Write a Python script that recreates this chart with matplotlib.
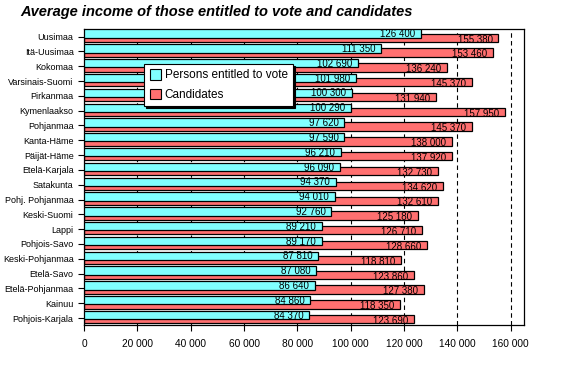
import matplotlib

matplotlib.use("Agg")

import matplotlib.pyplot as plt
import numpy as np
from matplotlib.ticker import FuncFormatter, MultipleLocator


TITLE = "Average income of those entitled to vote and candidates"

regions = [
    "Uusimaa", "Itä-Uusimaa", "Kokomaa", "Varsinais-Suomi", "Pirkanmaa",
    "Kymenlaakso", "Pohjanmaa", "Kanta-Häme", "Päijät-Häme", "Etelä-Karjala",
    "Satakunta", "Pohj. Pohjanmaa", "Keski-Suomi", "Lappi", "Pohjois-Savo",
    "Keski-Pohjanmaa", "Etelä-Savo", "Etelä-Pohjanmaa", "Kainuu", "Pohjois-Karjala",
]
voters = [
    126400, 111350, 102690, 101980, 100300, 100290, 97620, 97590, 96210, 96090,
    94370, 94010, 92760, 89210, 89170, 87810, 87080, 86640, 84860, 84370,
]
candidates = [
    155380, 153460, 136240, 145370, 131940, 157950, 145370, 138000, 137920, 132730,
    134620, 132610, 125180, 126710, 128660, 118810, 123860, 127380, 118350, 123690,
]
series_names = ["Persons entitled to vote", "Candidates"]

CYAN = "#80FFFF"
RED = "#FF7070"
FONT = "Liberation Sans"


def fmt(v):
    return f"{int(v):,}".replace(",", " ")


def main():
    fig = plt.figure(figsize=(5.75, 3.9), dpi=100)
    ax = fig.add_axes([0.146, 0.167, 0.765, 0.759])

    y = np.arange(len(regions))
    h = 0.56

    ax.barh(y + 0.08, candidates, height=h, color=RED, edgecolor="black",
            linewidth=0.9, zorder=2)
    ax.barh(y - 0.2, voters, height=h, color=CYAN, edgecolor="black",
            linewidth=0.9, zorder=3)

    for yi, v in zip(y, voters):
        ax.text(v - 2200, yi - 0.16, fmt(v), ha="right", va="center",
                fontsize=7, family=FONT, zorder=4)
    for yi, v in zip(y, candidates):
        ax.text(v - 2200, yi + 0.2, fmt(v), ha="right", va="center",
                fontsize=7, family=FONT, zorder=4)

    ax.set_xlim(0, 164900)
    ax.set_ylim(len(regions) - 0.54, -0.52)
    ax.xaxis.set_major_locator(MultipleLocator(20000))
    ax.xaxis.set_major_formatter(FuncFormatter(lambda v, p: fmt(v)))
    ax.set_yticks(y)
    ax.set_yticklabels(regions)

    ax.grid(axis="x", color="black", linestyle=(0, (4, 3)), linewidth=0.8, zorder=1)
    ax.set_axisbelow(True)

    for s in ax.spines.values():
        s.set_color("black")
        s.set_linewidth(0.9)

    ax.tick_params(axis="both", direction="out", length=4, width=0.8,
                   colors="black")
    ax.tick_params(axis="x", pad=6, labelsize=7.3)
    ax.tick_params(axis="y", labelsize=6.5)
    for lab in ax.get_xticklabels() + ax.get_yticklabels():
        lab.set_family(FONT)

    handles = [plt.Rectangle((0, 0), 1, 1, fc=CYAN, ec="black", lw=0.8),
               plt.Rectangle((0, 0), 1, 1, fc=RED, ec="black", lw=0.8)]
    leg = ax.legend(handles=handles, labels=series_names,
                    loc="upper left", bbox_to_anchor=(0.137, 0.882),
                    prop={"family": FONT, "size": 8.5}, frameon=True, fancybox=False,
                    shadow={"color": "black", "alpha": 1, "ox": 1.5, "oy": -1.5},
                    handlelength=1.0, handleheight=1.0, handletextpad=0.3,
                    borderpad=0.45, labelspacing=0.6, borderaxespad=0)
    leg.get_frame().set_edgecolor("black")
    leg.get_frame().set_linewidth(0.8)
    leg.set_zorder(5)

    fig.text(0.035, 0.968, TITLE, ha="left", va="center", fontsize=10.5,
             fontweight="bold", fontstyle="italic", family=FONT)

    fig.savefig("out.png", dpi=100)
    plt.close(fig)


if __name__ == "__main__":
    main()
